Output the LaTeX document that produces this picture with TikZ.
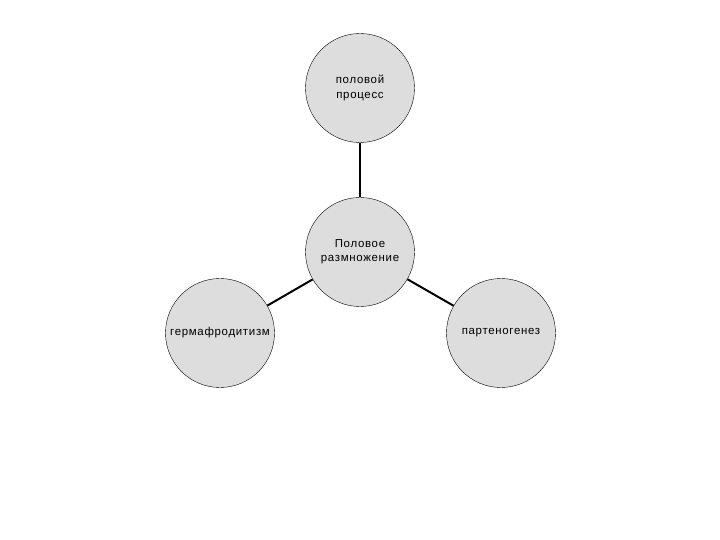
\documentclass[tikz,border=0pt]{standalone}
\usepackage{fontspec}
\setmainfont{Liberation Sans}[LetterSpace=6]
\usepackage{tikz}
\definecolor{circfill}{HTML}{DDDDDD}

\begin{document}
\begin{tikzpicture}[x=1bp, y=-1bp,
        topic/.style={circle, draw, thin, fill=circfill, minimum size=109bp,
            inner sep=0pt, align=center, font=\fontsize{11.5}{14.5}\selectfont}]
        \useasboundingbox (0, 0) rectangle (720, 540);

        \node[topic] at (360, 88)   (proc) {половой\\процесс};
        \node[topic] at (360, 252)  (razm) {Половое\\размножение};
        \node[topic] at (220, 333)  (germ) {гермафродитизм};
        \node[topic] at (501, 333)  (part) {партеногенез};

        \draw [line width=2bp] (proc) -- (razm);
        \draw [line width=2bp] (razm) -- (germ);
        \draw [line width=2bp] (razm) -- (part);
    \end{tikzpicture}
\end{document}
